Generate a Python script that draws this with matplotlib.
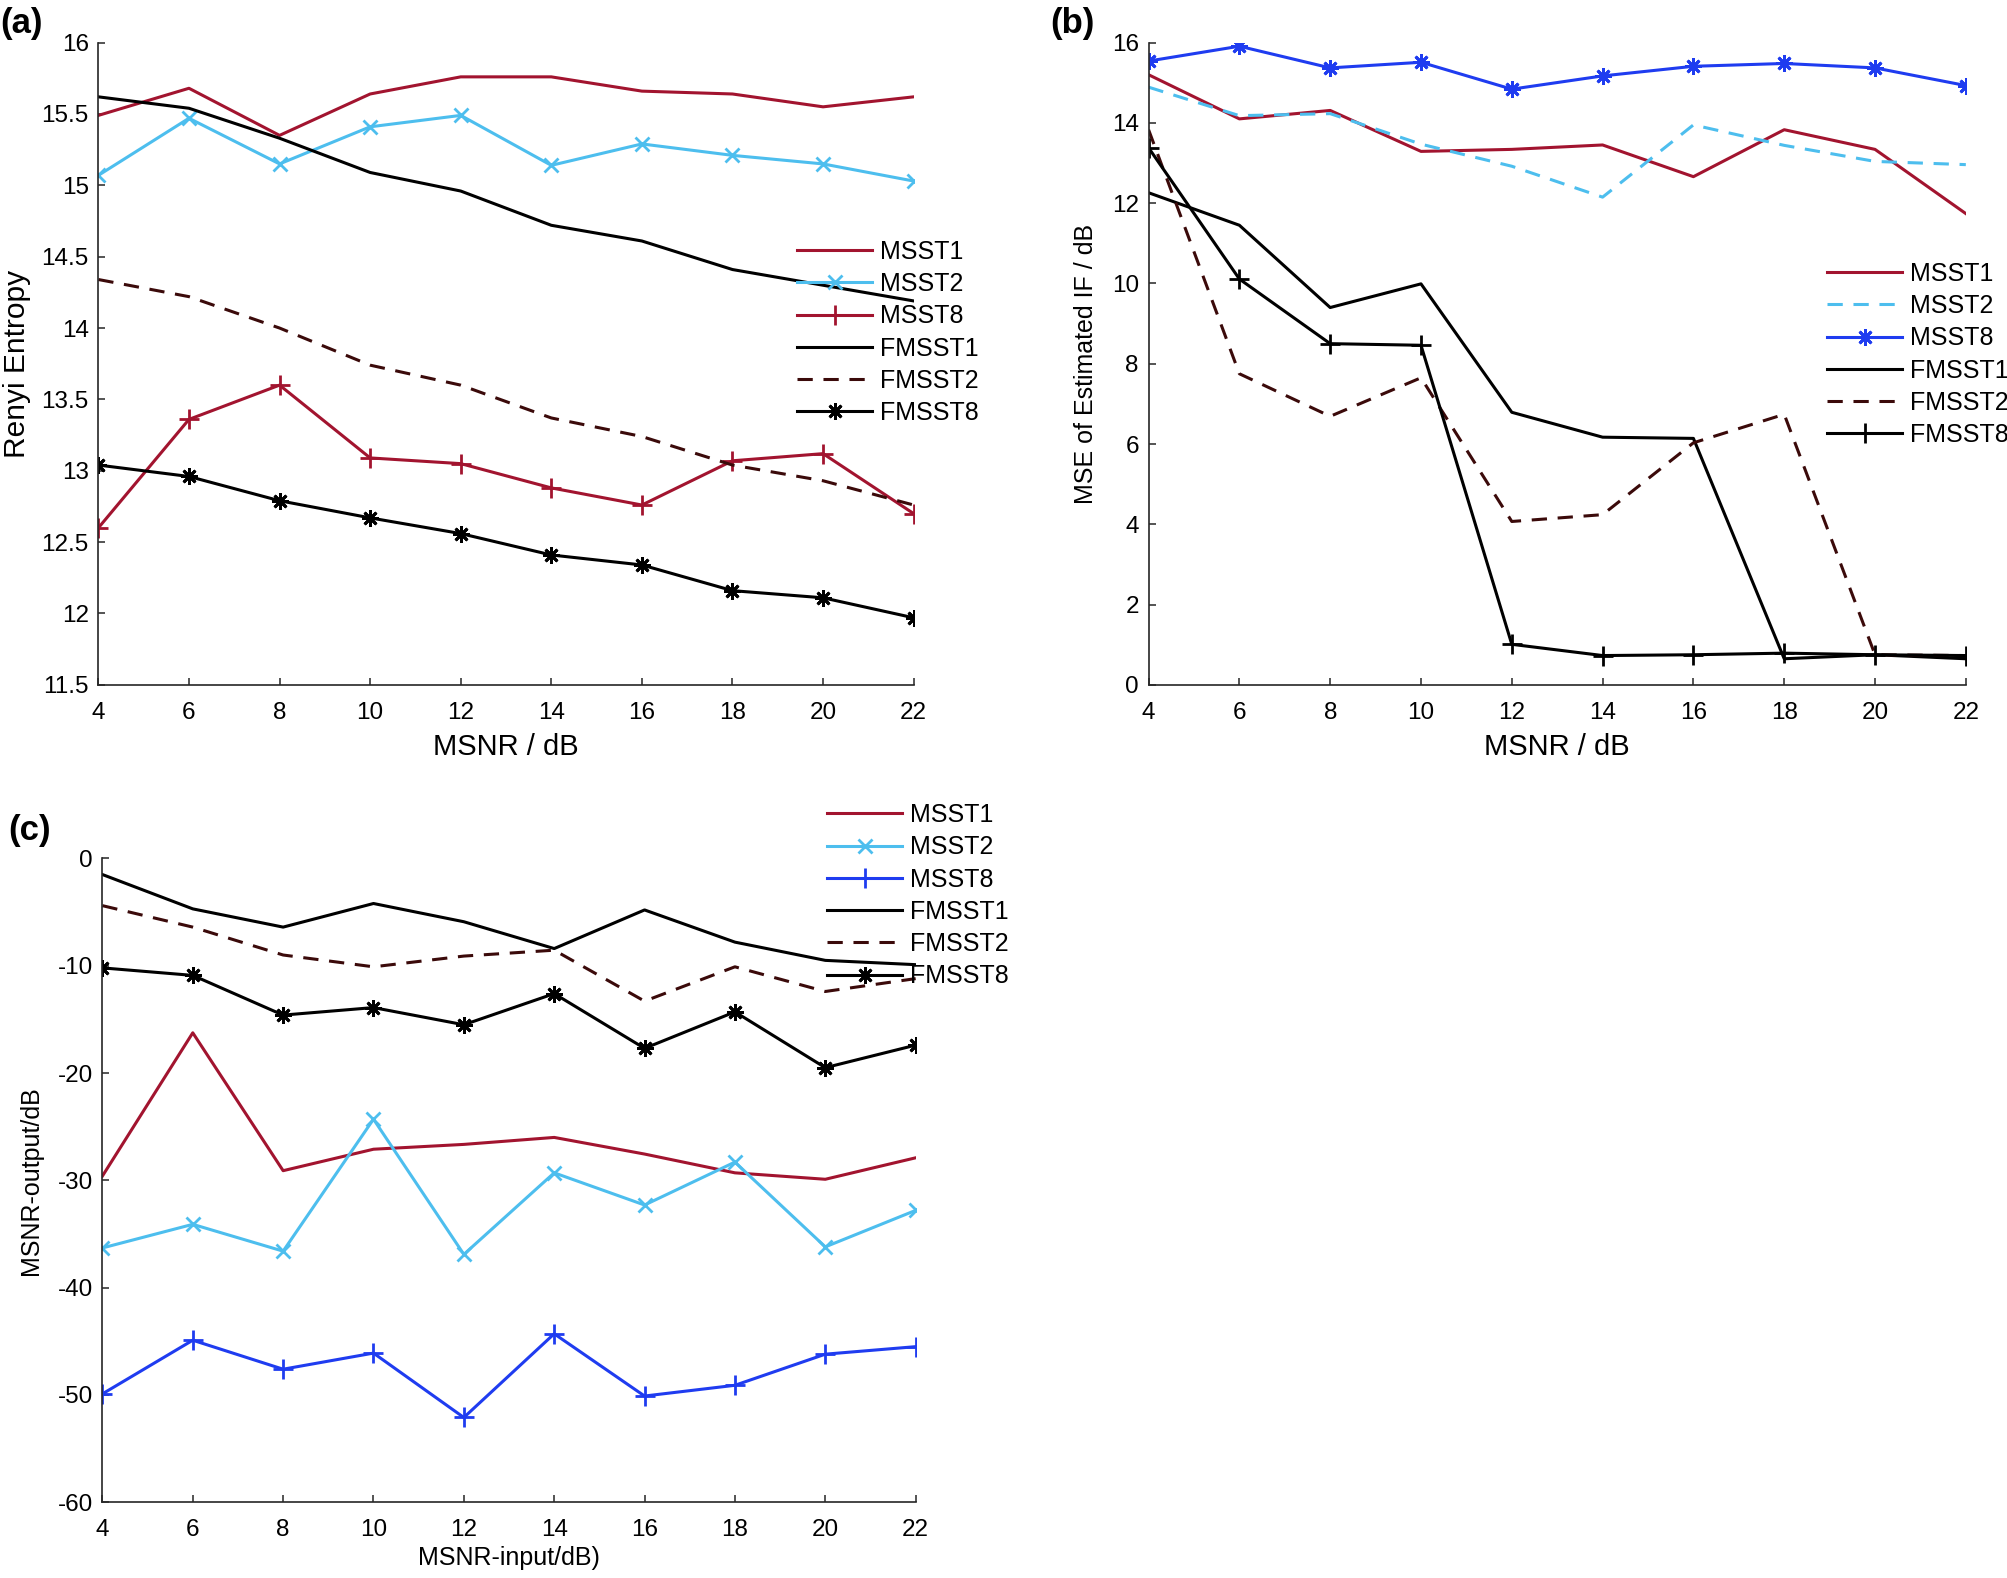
import numpy as np
import matplotlib
matplotlib.use("Agg")
import matplotlib.pyplot as plt

plt.rcParams['font.family'] = ['Liberation Sans', 'DejaVu Sans']
plt.rcParams['axes.unicode_minus'] = False

# ---- data ----
snr = [4, 6, 8, 10, 12, 14, 16, 18, 20, 22]
labels = ["MSST1", "MSST2", "MSST8", "FMSST1", "FMSST2", "FMSST8"]

# (a) Renyi entropy
renyi_msst1 = [15.49, 15.68, 15.35, 15.64, 15.76, 15.76, 15.66, 15.64, 15.55, 15.62]
renyi_msst2 = [15.07, 15.47, 15.15, 15.41, 15.49, 15.14, 15.29, 15.21, 15.15, 15.03]
renyi_msst8 = [12.60, 13.36, 13.60, 13.09, 13.05, 12.88, 12.76, 13.07, 13.12, 12.70]
renyi_fmsst1 = [15.62, 15.54, 15.33, 15.09, 14.96, 14.72, 14.61, 14.41, 14.30, 14.19]
renyi_fmsst2 = [14.34, 14.22, 14.00, 13.74, 13.60, 13.37, 13.24, 13.04, 12.93, 12.76]
renyi_fmsst8 = [13.04, 12.96, 12.79, 12.67, 12.56, 12.41, 12.34, 12.16, 12.11, 11.97]

# (b) MSE of estimated IF
mse_msst1 = [15.20, 14.10, 14.31, 13.29, 13.34, 13.45, 12.66, 13.83, 13.34, 11.74]
mse_msst2 = [14.89, 14.18, 14.23, 13.47, 12.92, 12.15, 13.95, 13.44, 13.04, 12.96]
mse_msst8 = [15.54, 15.91, 15.37, 15.51, 14.84, 15.17, 15.41, 15.48, 15.37, 14.93]
mse_fmsst1 = [12.26, 11.45, 9.40, 9.99, 6.79, 6.17, 6.14, 0.65, 0.75, 0.65]
mse_fmsst2 = [13.83, 7.75, 6.69, 7.65, 4.07, 4.24, 6.03, 6.74, 0.75, 0.73]
mse_fmsst8 = [13.38, 10.11, 8.50, 8.46, 1.01, 0.73, 0.75, 0.79, 0.75, 0.73]

# (c) MSNR output
out_msst1 = [-29.6, -16.25, -29.1, -27.1, -26.65, -26.0, -27.55, -29.3, -29.9, -27.9]
out_msst2 = [-36.3, -34.1, -36.6, -24.3, -36.9, -29.3, -32.3, -28.3, -36.2, -32.8]
out_msst8 = [-49.9, -44.9, -47.6, -46.1, -52.1, -44.3, -50.1, -49.1, -46.2, -45.5]
out_fmsst1 = [-1.5, -4.7, -6.4, -4.2, -5.9, -8.4, -4.8, -7.8, -9.5, -9.9]
out_fmsst2 = [-4.4, -6.4, -9.0, -10.1, -9.1, -8.55, -13.3, -10.1, -12.4, -11.2]
out_fmsst8 = [-10.2, -10.9, -14.6, -13.9, -15.5, -12.6, -17.7, -14.3, -19.5, -17.4]

RED = '#A2142F'
CYAN = '#4DBEEE'
BLUE = '#1F3CF0'
BROWN = '#3B0A0A'
BLACK = '#000000'
AST = (8, 2, 0)
LW = 2.2
DASH = (5, 3.5)

fig = plt.figure(figsize=(20.08, 15.78), dpi=100)
ax_a = fig.add_axes([0.049, 0.566, 0.406, 0.407])
ax_b = fig.add_axes([0.572, 0.566, 0.407, 0.407])
ax_c = fig.add_axes([0.051, 0.048, 0.405, 0.408])


def style_axes(ax):
    for s in ['top', 'right']:
        ax.spines[s].set_visible(False)
    for s in ['left', 'bottom']:
        ax.spines[s].set_color('#262626')
        ax.spines[s].set_linewidth(1.2)
    ax.tick_params(direction='in', length=5, width=1.1, color='#262626', labelsize=17.5)
    ax.tick_params(axis='x', pad=12)
    ax.tick_params(axis='y', pad=7)
    ax.set_xlim(4, 22)
    ax.set_xticks(snr)


def add_legend(ax, x, y):
    ax.legend(loc='upper left', bbox_to_anchor=(x, y), bbox_transform=fig.transFigure,
              frameon=False, fontsize=18, handlelength=3.0, handletextpad=0.3,
              labelspacing=0.33, borderpad=0, borderaxespad=0)


# (a)
ax = ax_a
ax.plot(snr, renyi_msst1, color=RED, lw=LW, label=labels[0])
ax.plot(snr, renyi_msst2, color=CYAN, lw=LW, marker='x', ms=10, mew=2, label=labels[1])
ax.plot(snr, renyi_msst8, color=RED, lw=LW, marker='+', ms=14, mew=2, label=labels[2])
ax.plot(snr, renyi_fmsst1, color=BLACK, lw=LW, label=labels[3])
ax.plot(snr, renyi_fmsst2, color=BROWN, lw=LW, ls=(0, DASH), label=labels[4])
ax.plot(snr, renyi_fmsst8, color=BLACK, lw=LW, marker=AST, ms=12, mew=2, label=labels[5])
style_axes(ax)
ax.set_ylim(11.5, 16)
ax.set_yticks(np.arange(11.5, 16.01, 0.5))
ax.set_yticklabels(['11.5', '12', '12.5', '13', '13.5', '14', '14.5', '15', '15.5', '16'])
ax.set_xlabel('MSNR / dB', fontsize=21)
ax.set_ylabel('Renyi Entropy', fontsize=21.5)
ax.xaxis.set_label_coords(0.5, -0.075)
ax.yaxis.set_label_coords(-0.083, 0.5)
add_legend(ax, 0.397, 0.848)

# (b)
ax = ax_b
ax.plot(snr, mse_msst1, color=RED, lw=LW, label=labels[0])
ax.plot(snr, mse_msst2, color=CYAN, lw=LW, ls=(0, DASH), label=labels[1])
ax.plot(snr, mse_msst8, color=BLUE, lw=LW, marker=AST, ms=12, mew=2, label=labels[2])
ax.plot(snr, mse_fmsst1, color=BLACK, lw=LW, label=labels[3])
ax.plot(snr, mse_fmsst2, color=BROWN, lw=LW, ls=(0, DASH), label=labels[4])
ax.plot(snr, mse_fmsst8, color=BLACK, lw=LW, marker='+', ms=14, mew=2, label=labels[5])
style_axes(ax)
ax.set_ylim(0, 16)
ax.set_yticks(range(0, 17, 2))
ax.set_xlabel('MSNR / dB', fontsize=21)
ax.set_ylabel('MSE of Estimated IF / dB', fontsize=18)
ax.xaxis.set_label_coords(0.5, -0.075)
ax.yaxis.set_label_coords(-0.062, 0.5)
add_legend(ax, 0.910, 0.834)

# (c)
ax = ax_c
ax.plot(snr, out_msst1, color=RED, lw=LW, label=labels[0])
ax.plot(snr, out_msst2, color=CYAN, lw=LW, marker='x', ms=10, mew=2, label=labels[1])
ax.plot(snr, out_msst8, color=BLUE, lw=LW, marker='+', ms=14, mew=2, label=labels[2])
ax.plot(snr, out_fmsst1, color=BLACK, lw=LW, label=labels[3])
ax.plot(snr, out_fmsst2, color=BROWN, lw=LW, ls=(0, DASH), label=labels[4])
ax.plot(snr, out_fmsst8, color=BLACK, lw=LW, marker=AST, ms=12, mew=2, label=labels[5])
style_axes(ax)
ax.set_ylim(-60, 0)
ax.set_yticks(range(-60, 1, 10))
ax.set_xlabel('MSNR-input/dB)', fontsize=18)
ax.set_ylabel('MSNR-output/dB', fontsize=18)
ax.xaxis.set_label_coords(0.5, -0.068)
ax.yaxis.set_label_coords(-0.073, 0.5)
add_legend(ax, 0.412, 0.491)

# panel letters
fig.text(0.0, 0.985, '(a)', fontsize=25, fontweight='bold', ha='left', va='center')
fig.text(0.523, 0.985, '(b)', fontsize=25, fontweight='bold', ha='left', va='center')
fig.text(0.004, 0.474, '(c)', fontsize=25, fontweight='bold', ha='left', va='center')

fig.savefig('out.png', dpi=100)
